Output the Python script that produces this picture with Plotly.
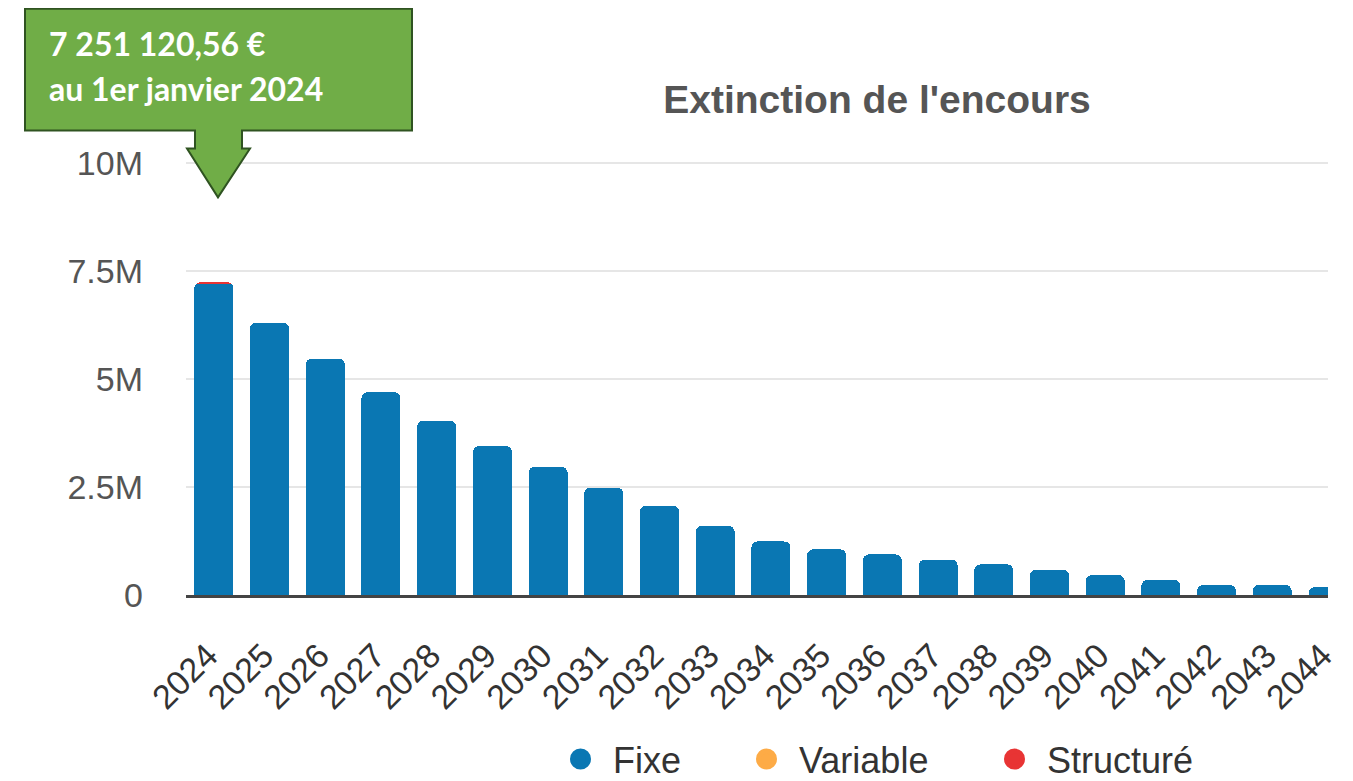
import plotly.graph_objects as go

# ---- data ----
years = [str(y) for y in range(2024, 2045)]
fixe = [7.20e6, 6.31e6, 5.48e6, 4.70e6, 4.04e6, 3.45e6, 2.97e6, 2.49e6, 2.07e6, 1.60e6,
        1.24e6, 1.06e6, 0.94e6, 0.82e6, 0.71e6, 0.59e6, 0.46e6, 0.35e6, 0.23e6, 0.23e6, 0.18e6]
variable = [0.0] * 21
structure = [0.05e6] + [0.0] * 20

series_names = ["Fixe", "Variable", "Structuré"]
series_colors = ["#0a77b3", "#fdab46", "#e83434"]
legend_widths = [116, 178, 170]

ytick_vals = [0, 2.5e6, 5e6, 7.5e6, 10e6]
ytick_text = ["0", "2.5M", "5M", "7.5M", "10M"]

title_text = "Extinction de l'encours"
callout_lines = ["7 251 120,56 €", "au 1er janvier 2024"]

# ---- layout geometry (target pixels in the screenshot) ----
W, H = 1353, 781
OFF = 8  # default page body margin
YMAX = 10.08e6
PX_PER_UNIT = 432.5 / 10e6
PB = 595.5
PL, PR = 186, 1328
PT = PB - YMAX * PX_PER_UNIT


def px2x(px):
    return (px - PL) / (PR - PL)


def py2y(py):
    return (PB - py) / (PB - PT)


fig = go.Figure()
for name, vals, col in zip(series_names, [fixe, variable, structure], series_colors):
    fig.add_trace(go.Bar(x=years, y=vals, name=name, marker_color=col,
                         marker_line_width=0, showlegend=False, legendgroup=name))
# legend entries with round markers
for name, col, lw in zip(series_names, series_colors, legend_widths):
    fig.add_trace(go.Scatter(x=[None], y=[None], mode="markers", name=name,
                             legendgroup=name, legendwidth=lw,
                             marker=dict(symbol="circle", size=16, color=col,
                                         line=dict(color=col, width=5))))

# callout shape
pts = [(25, 8), (412, 8), (412, 130), (242, 130), (242, 148), (250, 148), (218, 197),
       (187, 148), (195, 148), (195, 130), (25, 130)]
path = "M " + " L ".join(f"{px2x(a):.5f},{py2y(b):.5f}" for a, b in pts) + " Z"
fig.add_shape(type="path", path=path, xref="paper", yref="paper",
              fillcolor="#70ad47", line=dict(color="#2f5321", width=2), layer="above")
for txt, cy in zip(callout_lines, [43, 88]):
    fig.add_annotation(text=f"<b>{txt}</b>", xref="paper", yref="paper",
                       x=px2x(47), y=py2y(cy), xanchor="left", yanchor="middle",
                       showarrow=False,
                       font=dict(family="Lato, Carlito, sans-serif", size=32, color="white"))

fig.update_layout(
    width=W, height=H,
    barmode="stack",
    bargap=0.3,
    barcornerradius=6,
    paper_bgcolor="white", plot_bgcolor="white",
    margin=dict(l=PL - OFF, r=W - (PR - OFF), t=PT - OFF, b=H - (PB - OFF), pad=0,
                autoexpand=False),
    font=dict(family="Liberation Sans, Arial, sans-serif", color="#333333"),
    title=dict(text=title_text, x=(877 - OFF) / W, y=1 - (100 - OFF - 1) / H,
               xref="container", yref="container",
               xanchor="center", yanchor="middle",
               font=dict(size=39, color="#555555", weight="bold",
                         family="Liberation Sans, Arial, sans-serif")),
    xaxis=dict(type="category", range=[-0.5, 20], tickangle=-45,
               showline=True, linecolor="#444444", linewidth=3,
               showgrid=False, ticks="", ticklabelstandoff=24, ticklabelshift=-6,
               tickfont=dict(size=34, color="#333333")),
    yaxis=dict(range=[0, YMAX], tickvals=ytick_vals, ticktext=ytick_text,
               showgrid=True, gridcolor="#e6e6e6", gridwidth=2, zeroline=False,
               ticks="", ticklabelstandoff=42,
               tickfont=dict(size=34, color="#555555")),
    legend=dict(orientation="h", x=px2x(548), xanchor="left", y=py2y(760), yanchor="middle",
                font=dict(size=36, color="#333333"), itemsizing="trace", itemwidth=55,
                bgcolor="rgba(0,0,0,0)"),
)

fig.write_html("out.html")
